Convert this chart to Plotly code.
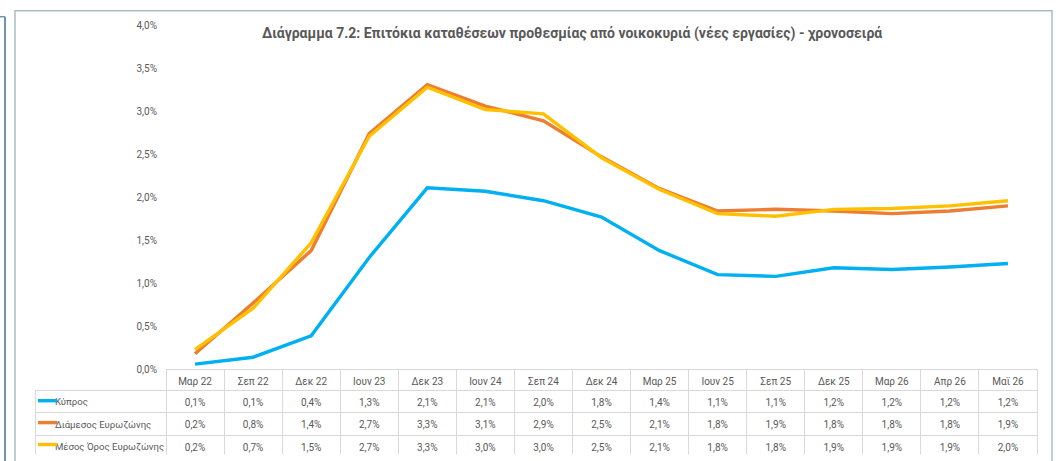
import plotly.graph_objects as go

categories = ["Μαρ 22", "Σεπ 22", "Δεκ 22", "Ιουν 23", "Δεκ 23", "Ιουν 24", "Σεπ 24",
              "Δεκ 24", "Μαρ 25", "Ιουν 25", "Σεπ 25", "Δεκ 25", "Μαρ 26", "Απρ 26", "Μαϊ 26"]
kypros = [0.06, 0.14, 0.39, 1.30, 2.11, 2.07, 1.96, 1.77, 1.38, 1.10, 1.08, 1.18, 1.16, 1.19, 1.23]
diamesos = [0.18, 0.77, 1.38, 2.74, 3.31, 3.06, 2.89, 2.47, 2.10, 1.84, 1.86, 1.84, 1.81, 1.84, 1.90]
mesos = [0.23, 0.71, 1.47, 2.71, 3.28, 3.02, 2.97, 2.46, 2.09, 1.81, 1.78, 1.86, 1.87, 1.90, 1.96]
series_names = ["Κύπρος", "Διάμεσος Ευρωζώνης", "Μέσος Όρος Ευρωζώνης"]
series_values = [kypros, diamesos, mesos]
colors = ["#00B0F0", "#ED7D31", "#FFC000"]
y_ticks = [0, 0.5, 1.0, 1.5, 2.0, 2.5, 3.0, 3.5, 4.0]
title = "Διάγραμμα 7.2: Επιτόκια καταθέσεων προθεσμίας από νοικοκυριά (νέες εργασίες) - χρονοσειρά"

W, H = 1056, 461
FONT = "Liberation Sans Narrow, Arial Narrow, Roboto, sans-serif"
TXT = "#595959"
GRID = "#D9D9D9"

# layout constants (pixels from top-left)
plot_left, plot_right = 166, 1037
zero_y, px_per_pct = 373, 88.3
table_left, table_top = 35, 373
header_h, row_h = 21, 22.5


def px_x(p):
    return p / W


def px_y(p):
    return (H - p) / H


def fmt(v):
    return f"{v:.1f}%".replace(".", ",")


fig = go.Figure()
for name, vals, col in zip(series_names, series_values, colors):
    fig.add_trace(go.Scatter(x=categories, y=vals, mode="lines", name=name,
                             line=dict(color=col, width=3.4), showlegend=False))

pad = "\u00a0" * 5
label_cells = [pad + nm.replace(" ", "\u00a0") for nm in series_names]
columns = [label_cells] + [[fmt(series_values[s][i]) for s in range(len(series_values))]
                           for i in range(len(categories))]
n = len(categories)
col_w = (plot_right - plot_left) / n

fig.add_trace(go.Table(
    domain=dict(x=[px_x(table_left), px_x(plot_right)], y=[0, px_y(table_top)]),
    columnwidth=[plot_left - table_left] + [col_w] * n,
    header=dict(values=[""] + categories, height=header_h,
                fill=dict(color=["rgba(0,0,0,0)"] + ["white"] * n),
                line=dict(color=["rgba(0,0,0,0)"] + [GRID] * n, width=1),
                font=dict(family=FONT, size=10, color=TXT), align="center"),
    cells=dict(values=columns, height=row_h,
               fill=dict(color="white"),
               line=dict(color=GRID, width=1),
               font=dict(family=FONT, size=[9.6] + [10] * n, color=TXT),
               align=["left"] + ["center"] * n),
))

shapes = [
    dict(type="rect", xref="paper", yref="paper", x0=px_x(15), x1=px_x(1052),
         y0=px_y(5), y1=px_y(470), line=dict(color="#A9BCCB", width=1.5), layer="below"),
    dict(type="line", xref="paper", yref="paper", x0=px_x(5), x1=px_x(5),
         y0=px_y(11), y1=px_y(470), line=dict(color="#7094AB", width=2)),
    dict(type="line", xref="paper", yref="paper", x0=px_x(-2), x1=px_x(5),
         y0=px_y(11), y1=px_y(11), line=dict(color="#7094AB", width=1.5)),
]
# legend keys inside the table's label column
for i, col in enumerate(colors):
    yc = table_top + header_h + row_h * (i + 0.5)
    shapes.append(dict(type="line", xref="paper", yref="paper",
                       x0=px_x(table_left + 3), x1=px_x(table_left + 22),
                       y0=px_y(yc), y1=px_y(yc), line=dict(color=col, width=3.4)))

fig.update_layout(
    width=W, height=H,
    margin=dict(l=0, r=0, t=0, b=0),
    paper_bgcolor="white", plot_bgcolor="white",
    separators=",.",
    font=dict(family=FONT, color=TXT),
    xaxis=dict(domain=[px_x(plot_left), px_x(plot_right)], type="category",
               range=[-0.5, n - 0.5], showticklabels=False,
               showgrid=False, zeroline=False, showline=False),
    yaxis=dict(domain=[px_y(zero_y), px_y(zero_y - 4 * px_per_pct)], range=[0, 4.0],
               tickvals=y_ticks, ticktext=[fmt(v) for v in y_ticks],
               showgrid=False, zeroline=False, showline=False,
               tickfont=dict(family=FONT, size=10, color=TXT),
               ticklabelstandoff=8),
    annotations=[dict(text=f"<b>{title}</b>", xref="paper", yref="paper",
                      x=px_x(572), y=px_y(28), xanchor="center", yanchor="middle",
                      showarrow=False, font=dict(family=FONT, size=14, color=TXT))],
    shapes=shapes,
)

fig.write_html("out.html", config={"displayModeBar": False},
               post_script="document.body.style.margin='0px';document.body.style.overflow='hidden';")
